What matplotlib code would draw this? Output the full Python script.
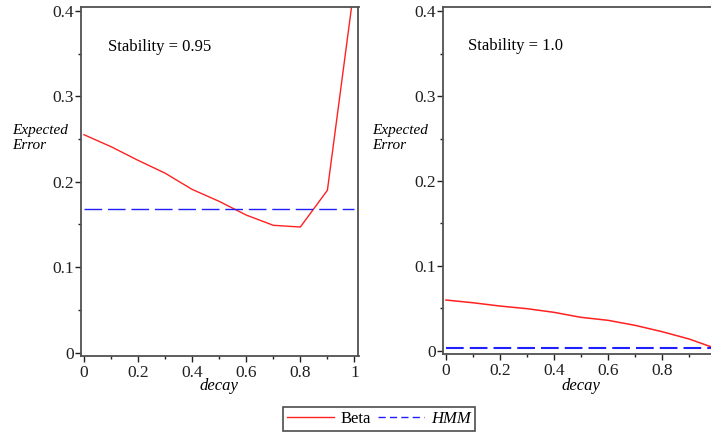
import matplotlib
matplotlib.use("Agg")
import matplotlib.pyplot as plt
from matplotlib.lines import Line2D
from matplotlib.ticker import MultipleLocator, FuncFormatter
import matplotlib.transforms as mtransforms

plt.rcParams['font.family'] = ['Liberation Serif', 'DejaVu Serif']

# Data
decay = [0.0, 0.1, 0.2, 0.3, 0.4, 0.5, 0.6, 0.7, 0.8, 0.9, 1.0]
beta_stab095 = [0.255, 0.241, 0.225, 0.210, 0.191, 0.177, 0.161, 0.149, 0.147, 0.190, 0.430]
hmm_stab095 = 0.168
beta_stab100 = [0.0597, 0.0565, 0.0526, 0.0495, 0.0452, 0.0393, 0.0358, 0.0299, 0.0224, 0.0138, 0.0025]
hmm_stab100 = 0.003
panel_titles = ["Stability = 0.95", "Stability = 1.0"]

W, H = 711, 433
fig = plt.figure(figsize=(W / 100, H / 100), dpi=100)

def px_axes(x0, y0, x1, y1):
    return fig.add_axes([x0 / W, 1 - y1 / H, (x1 - x0) / W, (y1 - y0) / H])

ax1 = px_axes(81, 6.5, 358.5, 356)
ax2 = px_axes(443, 7, 712, 354)

spine_col = '#505050'
red = '#ff2020'
blue = '#2020ff'
dash = (12.7, 4.2)
legend_dash = (5.2, 3.0)

def fmt(v, pos):
    s = f"{v:.1f}"
    if s in ("0.0", "-0.0"):
        return "0"
    if s == "1.0":
        return "1"
    return s

def style(ax, xmax):
    ax.set_xlim(-0.011, xmax)
    ax.set_ylim(-0.0039, 0.405)
    for side in ['left', 'bottom', 'top', 'right']:
        ax.spines[side].set_color(spine_col)
        ax.spines[side].set_linewidth(1.3)
    ax.xaxis.set_major_locator(MultipleLocator(0.2))
    ax.xaxis.set_minor_locator(MultipleLocator(0.1))
    ax.yaxis.set_major_locator(MultipleLocator(0.1))
    ax.yaxis.set_minor_locator(MultipleLocator(0.05))
    ax.xaxis.set_major_formatter(FuncFormatter(fmt))
    ax.yaxis.set_major_formatter(FuncFormatter(fmt))
    ax.tick_params(which='major', direction='out', length=4, width=1, color='#202020',
                   labelsize=12.5, pad=1.2, labelcolor='#202020')
    ax.tick_params(axis='x', which='major', pad=2.5)
    ax.tick_params(which='minor', direction='out', length=2.5, width=1, color='#202020')
    ax.tick_params(top=False, right=False, which='both')

style(ax1, 1.015)
style(ax2, 0.985)

ax1.plot(decay, beta_stab095, color=red, lw=1.0)
ax1.plot(decay, [hmm_stab095] * len(decay), color=blue, lw=1.0, dashes=dash)
ax2.plot(decay, beta_stab100, color=red, lw=1.1)
ax2.plot(decay, [hmm_stab100] * len(decay), color=blue, lw=1.5, dashes=(8.5, 2.9))

ax1.text(0.089, 0.358, panel_titles[0], fontsize=12, va='center', ha='left')
ax2.text(0.080, 0.359, panel_titles[1], fontsize=12, va='center', ha='left')

for ax, lx in ((ax1, 12), (ax2, 372)):
    fig.text(lx / W, 1 - 138 / H, "Expected\nError", fontsize=11, style='italic',
             ha='left', va='center', linespacing=1.25)
    trans = mtransforms.blended_transform_factory(ax.transData, fig.transFigure)
    ax.text(0.5, 1 - 386 / H, "decay", transform=trans, fontsize=12, style='italic',
            ha='center', va='center')

handles = [Line2D([], [], color=red, lw=1.0),
           Line2D([], [], color=blue, lw=1.0, dashes=legend_dash)]
leg = fig.legend(handles, ["Beta", "HMM"], loc='center', bbox_to_anchor=(379 / W, 1 - 419 / H),
                 ncol=2, frameon=True, fancybox=False, edgecolor='#202020', fontsize=12,
                 handlelength=2.8, handletextpad=0.4, columnspacing=0.4, borderpad=0.25,
                 borderaxespad=0)
leg.get_frame().set_linewidth(1.2)
leg.get_texts()[1].set_style('italic')

fig.savefig("out.png", dpi=100)
